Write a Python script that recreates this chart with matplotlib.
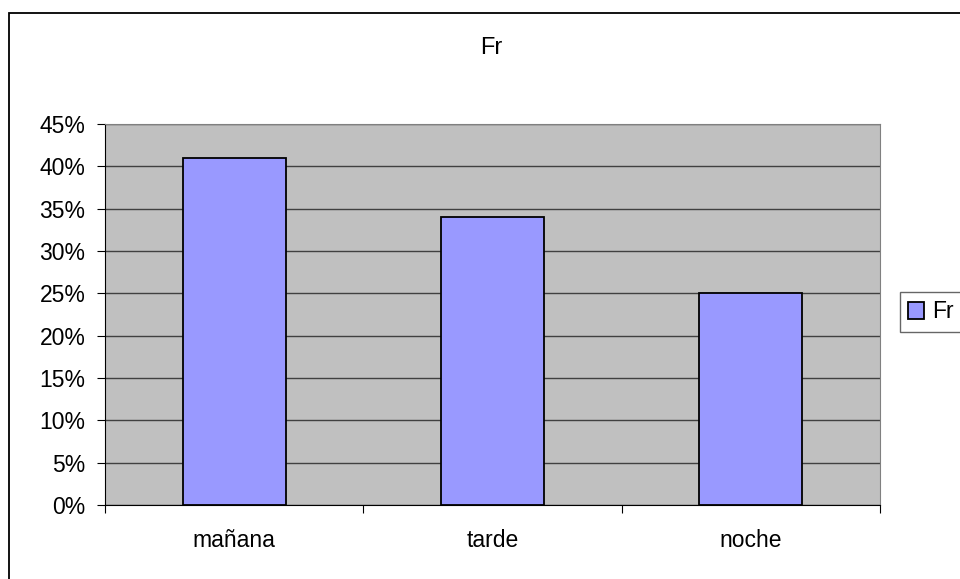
import matplotlib.pyplot as plt
from matplotlib.patches import Rectangle
from matplotlib.ticker import PercentFormatter

plt.rcParams['font.family'] = ['Liberation Sans', 'DejaVu Sans']

categories = ['mañana', 'tarde', 'noche']
fr = [41, 34, 25]
yticks = [0, 5, 10, 15, 20, 25, 30, 35, 40, 45]

fig = plt.figure(figsize=(9.6, 5.79), dpi=100)
ax = fig.add_axes([105 / 960, 74 / 579, 775 / 960, 381 / 579])

# outer chart border
fig.patches.append(Rectangle((9 / 960, -0.1), 1.2, 1.1 - 13 / 579, transform=fig.transFigure,
                             fill=False, edgecolor='black', linewidth=1.3))

ax.set_facecolor('#C0C0C0')
pos = [0.5, 1.5, 2.5]
ax.bar(pos, fr, width=0.4, color='#9999FF', edgecolor='black', linewidth=1.3,
       label='Fr', zorder=3)

ax.set_xlim(0, 3)
ax.set_ylim(0, 45)
ax.set_yticks(yticks)
ax.yaxis.set_major_formatter(PercentFormatter(decimals=0))
ax.set_xticks([0, 1, 2, 3])
ax.set_xticklabels([])
ax.set_xticks(pos, minor=True)
ax.set_xticklabels(categories, minor=True)
ax.tick_params(axis='x', which='minor', length=0, pad=17, labelsize=16.5)
ax.tick_params(axis='x', which='major', length=6, direction='out')
ax.tick_params(axis='y', length=6, direction='out', labelsize=16.5, pad=8)
ax.grid(axis='y', color='#404040', linewidth=1, zorder=1)

for s in ['top', 'right']:
    ax.spines[s].set_color('#808080')
for s in ['left', 'bottom']:
    ax.spines[s].set_color('black')

fig.text(491 / 960, 1 - 48 / 579, 'Fr', ha='center', va='center', fontsize=17)

leg = ax.legend(loc='center left', bbox_to_anchor=(900 / 960, 1 - 312 / 579),
                bbox_transform=fig.transFigure, fontsize=16.5, frameon=True,
                fancybox=False, edgecolor='#404040', handlelength=0.7,
                handleheight=0.7, handletextpad=0.35, borderpad=0.35,
                borderaxespad=0)
leg.get_frame().set_linewidth(1)

plt.savefig('out.png', dpi=100)
